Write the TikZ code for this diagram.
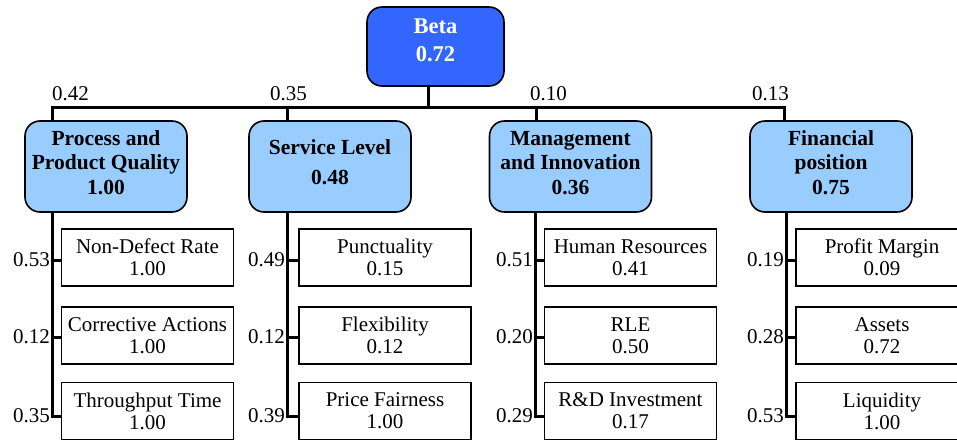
\documentclass[tikz,border=0pt]{standalone}
\usepackage{fontspec}
\setmainfont{Liberation Serif}
\definecolor{betablue}{HTML}{3366FF}
\definecolor{catblue}{HTML}{99CCFF}
\tikzset{
  conn/.style={line width=3pt, line cap=rect},
  betabox/.style={draw=black, line width=1.6pt, fill=betablue, rounded corners=15pt,
    minimum width=137pt, minimum height=79pt, inner sep=0pt, text=white, align=center,
    font=\fontsize{22.5}{24.5}\selectfont\bfseries, text depth=13pt},
  catbox/.style={draw=black, line width=1.6pt, fill=catblue, rounded corners=15pt,
    minimum width=162pt, minimum height=91pt, inner sep=0pt, align=center,
    font=\fontsize{21.5}{24.5}\selectfont\bfseries, text depth=8pt},
  leafbox/.style={draw=black, line width=1.4pt, fill=white,
    minimum width=172pt, minimum height=57pt, inner sep=0pt, align=center,
    font=\fontsize{21}{22}\selectfont},
  wlab/.style={inner sep=0pt, font=\fontsize{21}{22}\selectfont},
  slab/.style={wlab, anchor=east, xshift=-2pt},
}
\begin{document}
\begin{tikzpicture}[x=1pt,y=-1pt]
\clip (0,0) rectangle (957,441);
\fill[white] (0,0) rectangle (957,441);

% top
\node[betabox] (beta) at (435.5,46.5) {Beta\\[3.5pt]0.72};

% category boxes
\node[catbox] (p1) at (106,166.5) {Process and\\Product Quality\\1.00};
\node[catbox] (p2) at (330,166.5) {Service Level\\[5.5pt]0.48};
\node[catbox] (p3) at (570.5,166.5) {Management\\and Innovation\\0.36};
\node[catbox] (p4) at (831,166.5) {Financial\\position\\0.75};

% bar coordinates
\coordinate (bt) at (428,108);
\coordinate (b1) at (52,108);
\coordinate (b2) at (287,108);
\coordinate (b3) at (536,108);
\coordinate (b4) at (784,108);

\draw[conn] (beta.south -| bt) -- (bt);
\draw[conn] (b1) -- (b4);
\draw[conn] (b1) -- (b1 |- p1.north);
\draw[conn] (b2) -- (b2 |- p2.north);
\draw[conn] (b3) -- (b3 |- p3.north);
\draw[conn] (b4) -- (b4 |- p4.north);

\node[wlab, anchor=base west] (w1) at (52,100) {0.42};
\node[wlab, anchor=base west] (w2) at (270,100) {0.35};
\node[wlab, anchor=base west] (w3) at (530,100) {0.10};
\node[wlab, anchor=base west] (w4) at (752,100) {0.13};

% leaf boxes
\node[leafbox] (l11) at (147.5,257.5) {Non-Defect Rate\\1.00};
\node[leafbox] (l12) at (147.5,335.5) {Corrective Actions\\1.00};
\node[leafbox] (l13) at (147.5,411) {Throughput Time\\1.00};

\node[leafbox] (l21) at (385,257.5) {Punctuality\\0.15};
\node[leafbox] (l22) at (385,335.5) {Flexibility\\0.12};
\node[leafbox] (l23) at (385,411) {Price Fairness\\1.00};

\node[leafbox] (l31) at (630.5,257.5) {Human Resources\\0.41};
\node[leafbox] (l32) at (630.5,335.5) {RLE\\0.50};
\node[leafbox] (l33) at (630.5,411) {R\&D Investment\\0.17};

\node[leafbox] (l41) at (882,257.5) {Profit Margin\\0.09};
\node[leafbox] (l42) at (882,335.5) {Assets\\0.72};
\node[leafbox] (l43) at (882,411) {Liquidity\\1.00};

% column connectors
\foreach \c/\x in {1/52,2/287,3/535,4/786}{
  \coordinate (t\c1) at (\x,260);
  \coordinate (t\c2) at (\x,337);
  \coordinate (t\c3) at (\x,416);
  \draw[conn] (p\c.south -| t\c3) -- (t\c3) -- (t\c3 -| l\c3.west);
  \draw[conn] (t\c1) -- (t\c1 -| l\c1.west);
  \draw[conn] (t\c2) -- (t\c2 -| l\c2.west);
}

\node[slab] (v11) at (t11) {0.53};
\node[slab] (v12) at (t12) {0.12};
\node[slab] (v13) at (t13) {0.35};
\node[slab] (v21) at (t21) {0.49};
\node[slab] (v22) at (t22) {0.12};
\node[slab] (v23) at (t23) {0.39};
\node[slab] (v31) at (t31) {0.51};
\node[slab] (v32) at (t32) {0.20};
\node[slab] (v33) at (t33) {0.29};
\node[slab] (v41) at (t41) {0.19};
\node[slab] (v42) at (t42) {0.28};
\node[slab] (v43) at (t43) {0.53};
\end{tikzpicture}
\end{document}
